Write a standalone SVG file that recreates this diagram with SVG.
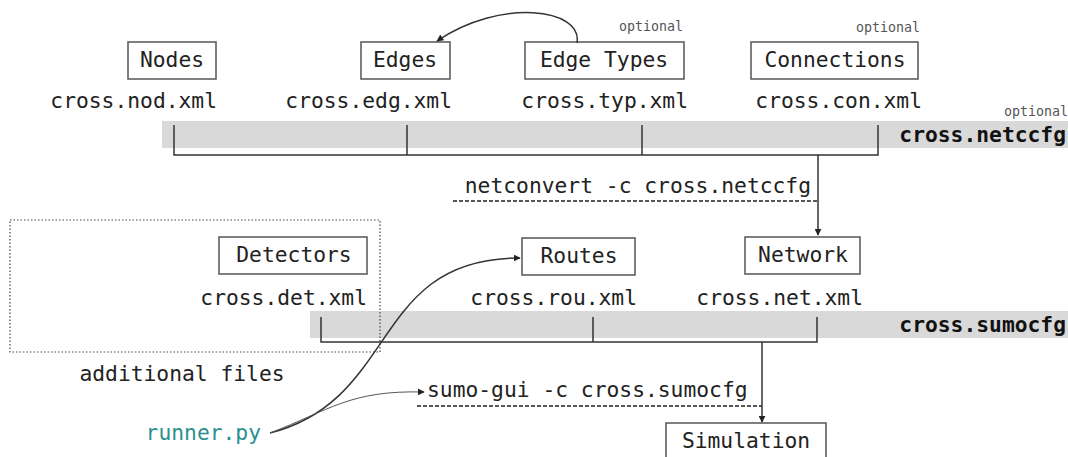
<svg xmlns="http://www.w3.org/2000/svg" width="1068" height="457" viewBox="0 0 1068 457">
  <style>
    .box { fill: #ffffff; stroke: #555555; stroke-width: 1.5; }
    .lbl { font-family: "DejaVu Sans Mono", "Liberation Mono", monospace; font-size: 21.3px; fill: #222222; }
    .mid { text-anchor: middle; }
    .end { text-anchor: end; }
    .cfg { font-family: "DejaVu Sans Mono", "Liberation Mono", monospace; font-size: 21.3px; font-weight: bold; fill: #111111; text-anchor: end; }
    .opt { font-family: "DejaVu Sans Mono", "Liberation Mono", monospace; font-size: 13.3px; fill: #555555; text-anchor: end; }
    .bar { fill: #d9d9d9; }
    .wire { fill: none; stroke: #333333; stroke-width: 1.5; }
    .dash { fill: none; stroke: #222222; stroke-width: 1.5; stroke-dasharray: 4 2; }
  </style>
  <defs>
    <marker id="arrow" viewBox="0 0 10 10" refX="9" refY="5" markerWidth="7" markerHeight="7" orient="auto" markerUnits="userSpaceOnUse">
      <path d="M0,0 L10,5 L0,10 z" fill="#222222"/>
    </marker>
  </defs>

  <!-- configuration bars -->
  <rect class="bar" x="162" y="121" width="906" height="27"/>
  <rect class="bar" x="310" y="311" width="758" height="27"/>

  <!-- additional files frame -->
  <g id="additional">
    <rect x="10" y="220" width="370" height="132" fill="none" stroke="#444444" stroke-width="1.2" stroke-dasharray="1.5 2"/>
    <text class="lbl" x="182" y="381" text-anchor="middle">additional files</text>
  </g>

  <!-- netconvert inputs -->
  <g id="nodes">
    <rect class="box" x="128" y="42" width="88" height="37"/>
    <text class="lbl mid" x="172" y="67">Nodes</text>
    <text class="lbl end" x="217" y="108">cross.nod.xml</text>
  </g>
  <g id="edges">
    <rect class="box" x="361" y="42" width="89" height="37"/>
    <text class="lbl mid" x="405" y="67">Edges</text>
    <text class="lbl end" x="452" y="108">cross.edg.xml</text>
  </g>
  <g id="edgetypes">
    <rect class="box" x="525" y="42" width="159" height="37"/>
    <text class="lbl mid" x="604" y="67">Edge Types</text>
    <text class="lbl end" x="688" y="108">cross.typ.xml</text>
    <text class="opt" x="683" y="31">optional</text>
  </g>
  <g id="connections">
    <rect class="box" x="751" y="42" width="167" height="37"/>
    <text class="lbl mid" x="835" y="67">Connections</text>
    <text class="lbl end" x="922" y="108">cross.con.xml</text>
    <text class="opt" x="920" y="32">optional</text>
  </g>
  <g id="netccfg">
    <text class="opt" x="1068" y="116">optional</text>
    <text class="cfg" x="1066" y="142">cross.netccfg</text>
  </g>

  <!-- simulation inputs -->
  <g id="detectors">
    <rect class="box" x="219" y="237" width="148" height="37"/>
    <text class="lbl mid" x="294" y="262">Detectors</text>
    <text class="lbl end" x="367" y="305">cross.det.xml</text>
  </g>
  <g id="routes">
    <rect class="box" x="522" y="238" width="113" height="37"/>
    <text class="lbl mid" x="579" y="263">Routes</text>
    <text class="lbl end" x="637" y="305">cross.rou.xml</text>
  </g>
  <g id="network">
    <rect class="box" x="745" y="237" width="115" height="37"/>
    <text class="lbl mid" x="803" y="262">Network</text>
    <text class="lbl end" x="863" y="305">cross.net.xml</text>
  </g>
  <g id="sumocfg">
    <text class="cfg" x="1066" y="332">cross.sumocfg</text>
  </g>
  <g id="simulation">
    <rect class="box" x="666" y="423" width="160" height="40"/>
    <text class="lbl mid" x="746" y="448">Simulation</text>
  </g>
  <g id="runner">
    <text class="lbl end" x="261" y="440" style="fill:#2a8f8f">runner.py</text>
  </g>

  <!-- commands -->
  <g id="netconvert">
    <text class="lbl end" x="811" y="193">netconvert -c cross.netccfg</text>
    <line class="dash" x1="453" y1="201" x2="818" y2="201"/>
  </g>
  <g id="sumogui">
    <text class="lbl" x="427" y="397">sumo-gui -c cross.sumocfg</text>
    <line class="dash" x1="417" y1="406" x2="762" y2="406"/>
  </g>

  <!-- connectors -->
  <g id="connectors">
    <!-- netccfg bracket -->
    <path class="wire" d="M174,125 V155 H878 V125 M407,125 V155 M642,125 V155"/>
    <path class="wire" d="M818,155 V235" marker-end="url(#arrow)"/>
    <!-- sumocfg bracket -->
    <path class="wire" d="M321,317 V342 H817 V317 M593,317 V342"/>
    <path class="wire" d="M762,342 V422" marker-end="url(#arrow)"/>
    <!-- edge types feed the edges -->
    <path class="wire" d="M577,43 C583,8 500,-2 437,41" marker-end="url(#arrow)"/>
    <!-- runner.py drives routes and the gui -->
    <path class="wire" d="M270,433 C400,400 370,258 520,258" marker-end="url(#arrow)"/>
    <path d="M270,433 C330,410 350,390 424,392" fill="none" stroke="#555555" stroke-width="1" marker-end="url(#arrow)"/>
  </g>
</svg>
